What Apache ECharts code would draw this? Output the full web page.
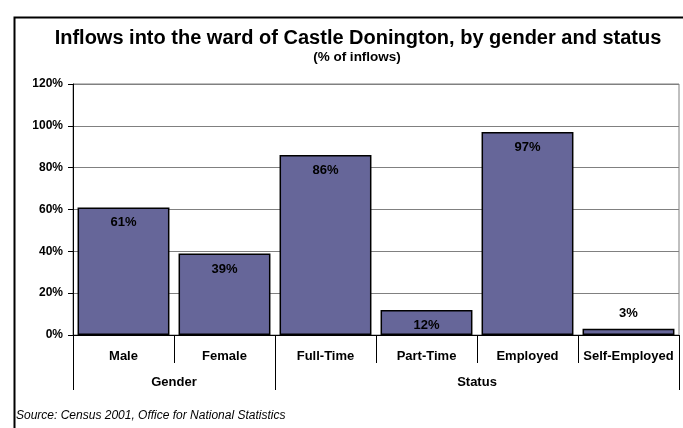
<!DOCTYPE html>
<html>
<head>
<meta charset="utf-8">
<script src="https://cdn.jsdelivr.net/npm/echarts@6/dist/echarts.min.js"></script>
<style>
  html, body { margin: 0; padding: 0; background: #ffffff; }
  #chart { width: 683px; height: 428px; }
</style>
</head>
<body>
<div id="chart"></div>
<script>
// Inflows into Castle Donington ward, share of inflows (%)
const categories = ['Male', 'Female', 'Full-Time', 'Part-Time', 'Employed', 'Self-Employed'];
const values = [61, 39, 86, 12, 97, 3];
const groupNames = ['Gender', 'Status'];
const groupSizes = [2, 4];
const yTicks = [0, 20, 40, 60, 80, 100, 120];

// Group boundaries and centres along the category axis (in category units)
const groupEdges = [0];
const groupCentres = [];
groupSizes.forEach(function (n) {
  const start = groupEdges[groupEdges.length - 1];
  groupCentres.push(start + n / 2);
  groupEdges.push(start + n);
});

const font = 'Arial, "Liberation Sans", sans-serif';
const chart = echarts.init(document.getElementById('chart'), null, { renderer: 'canvas' });

chart.setOption({
  backgroundColor: '#ffffff',
  animation: false,
  title: [
    {
      text: 'Inflows into the ward of Castle Donington, by gender and status',
      left: 353, top: 23, textAlign: 'center',
      textStyle: { fontFamily: font, fontSize: 20, fontWeight: 'bold', color: '#000' }
    },
    {
      text: '(% of inflows)',
      left: 352, top: 45, textAlign: 'center',
      textStyle: { fontFamily: font, fontSize: 13.5, fontWeight: 'bold', color: '#000' }
    },
    {
      text: 'Source: Census 2001, Office for National Statistics',
      left: 11, top: 405,
      textStyle: { fontFamily: font, fontSize: 12, fontStyle: 'italic', fontWeight: 'normal', color: '#000' }
    }
  ],
  graphic: [
    {
      type: 'rect', left: 12, top: 15, silent: true,
      shape: { width: 700, height: 460 },
      style: { fill: 'none', stroke: '#000', lineWidth: 2 }
    }
  ],
  grid: {
    left: 73, right: 4, top: 84, bottom: 93,
    show: true, borderColor: '#808080', borderWidth: 1, backgroundColor: 'transparent'
  },
  xAxis: [
    {
      type: 'category',
      data: categories,
      position: 'bottom',
      axisLine: { show: true, lineStyle: { color: '#000', width: 1 } },
      axisTick: { show: true, alignWithLabel: false, length: 28, lineStyle: { color: '#000', width: 1 } },
      axisLabel: {
        margin: 15, interval: 0,
        fontFamily: font, fontSize: 13, fontWeight: 'bold', color: '#000'
      },
      splitLine: { show: false }
    },
    {
      type: 'value',
      min: 0, max: categories.length,
      position: 'bottom',
      axisLine: { show: false },
      axisTick: {
        show: true, length: 55, customValues: groupEdges,
        lineStyle: { color: '#000', width: 1 }
      },
      axisLabel: {
        show: true, margin: 41, customValues: groupCentres,
        formatter: function (v) {
          const i = groupCentres.indexOf(v);
          return i >= 0 ? groupNames[i] : '';
        },
        fontFamily: font, fontSize: 13, fontWeight: 'bold', color: '#000'
      },
      splitLine: { show: false }
    }
  ],
  yAxis: {
    type: 'value',
    min: yTicks[0], max: yTicks[yTicks.length - 1], interval: 20,
    axisLine: { show: true, lineStyle: { color: '#000', width: 1 } },
    axisTick: { show: true, length: 5, lineStyle: { color: '#000', width: 1 } },
    axisLabel: {
      margin: 10, formatter: '{value}%',
      fontFamily: font, fontSize: 12, fontWeight: 'bold', color: '#000'
    },
    splitLine: { show: true, lineStyle: { color: '#808080', width: 1 } }
  },
  series: [
    {
      type: 'bar',
      xAxisIndex: 0,
      barCategoryGap: '9%',
      data: values.map(function (v) {
        const small = v < 8;
        return {
          value: v,
          label: { position: small ? 'top' : 'insideTop', distance: 9 }
        };
      }),
      itemStyle: { color: '#666699', borderColor: '#000', borderWidth: 1.5 },
      label: {
        show: true,
        formatter: '{c}%',
        fontFamily: font, fontSize: 13, fontWeight: 'bold', color: '#000'
      }
    }
  ]
});
</script>
</body>
</html>
